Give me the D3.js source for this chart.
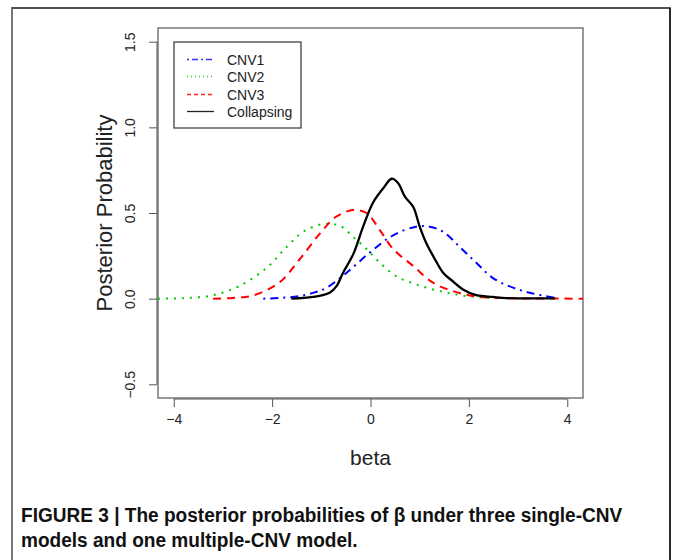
<!DOCTYPE html>
<html>
<meta charset="utf-8">
<style>
  body { margin: 0; background: #fff; }
  svg { display: block; }
  text { font-family: "Liberation Sans", Arial, sans-serif; fill: #222; }
  .caption { font-family: "Liberation Sans", Arial, sans-serif; font-weight: bold; fill: #111; }
</style>
<body>
  <svg width="673" height="560"></svg>
</body>
<script src="https://cdn.jsdelivr.net/npm/d3@7"></script>
<script>

  // values
  var xTicks = [-4, -2, 0, 2, 4];
  var yTicks = [-0.5, 0.0, 0.5, 1.0, 1.5];
  var legendNames = ["CNV1", "CNV2", "CNV3", "Collapsing"];

  var cnv1Beta = [-2.18, -1.8, -1.44, -1.15, -0.89, -0.49, -0.01, 0.46, 0.93, 1.2, 1.48, 1.82, 2.15, 2.49, 2.9, 3.3, 3.75];
  var cnv1Prob = [0, 0.005, 0.015, 0.035, 0.064, 0.15, 0.27, 0.37, 0.42, 0.42, 0.39, 0.30, 0.21, 0.12, 0.064, 0.03, 0.005];

  var cnv2Beta = [-4.32, -3.8, -3.2, -2.66, -2.11, -1.71, -1.37, -0.96, -0.62, -0.35, -0.08, 0.19, 0.53, 0.93, 1.41, 1.95, 2.6];
  var cnv2Prob = [0, 0.003, 0.02, 0.075, 0.18, 0.30, 0.39, 0.436, 0.425, 0.36, 0.29, 0.21, 0.13, 0.083, 0.044, 0.015, 0.002];

  var cnv3Beta = [-3.2, -2.8, -2.39, -1.85, -1.44, -1.03, -0.69, -0.35, -0.08, 0.19, 0.46, 0.87, 1.27, 1.68, 2.09, 2.6, 3.3, 4.32];
  var cnv3Prob = [0, 0.004, 0.018, 0.095, 0.23, 0.38, 0.48, 0.517, 0.50, 0.40, 0.29, 0.19, 0.093, 0.044, 0.015, 0.004, 0.001, 0];

  var collBeta = [-1.61, -1.17, -0.83, -0.69, -0.56, -0.35, -0.15, 0.05, 0.26, 0.43, 0.56, 0.70, 0.87, 1.0, 1.14, 1.31, 1.48, 1.68, 1.88, 2.15, 2.49, 2.76, 3.2, 3.75];
  var collProb = [0, 0.01, 0.035, 0.073, 0.15, 0.26, 0.42, 0.56, 0.645, 0.70, 0.675, 0.595, 0.535, 0.42, 0.32, 0.23, 0.15, 0.10, 0.054, 0.02, 0.01, 0.003, 0.002, 0.002];

  var svg = d3.select("svg");

  var plot = {left: 158, right: 583, top: 28, bottom: 398};

  var xScale = d3.scaleLinear().domain([-4.32, 4.32]).range([plot.left, plot.right]);
  var yScale = d3.scaleLinear().domain([-0.58, 1.58]).range([plot.bottom, plot.top]);

  // outer figure frame (open at the bottom)
  svg.append("path")
    .attr("d", "M12,562 L12,8 L670,8 L670,562")
    .attr("fill", "none").attr("stroke", "#777").attr("stroke-width", 2);
  svg.append("line").attr("x1", 12).attr("x2", 670).attr("y1", 8).attr("y2", 8)
    .attr("stroke", "#444").attr("stroke-width", 1.5);
  svg.append("line").attr("x1", 670).attr("x2", 670).attr("y1", 8).attr("y2", 562)
    .attr("stroke", "#111").attr("stroke-width", 1.5);

  // plot box
  svg.append("rect")
    .attr("x", plot.left).attr("y", plot.top)
    .attr("width", plot.right - plot.left).attr("height", plot.bottom - plot.top)
    .attr("fill", "none").attr("stroke", "#555").attr("stroke-width", 1.2);

  //AXES
  var xAxis = d3.axisBottom(xScale).tickValues(xTicks).tickSize(8).tickPadding(7)
    .tickFormat(function(d){ return d < 0 ? "\u2212" + Math.abs(d) : d; });
  var gx = svg.append("g").attr("transform", "translate(0," + (plot.bottom + 1) + ")").call(xAxis);
  gx.select(".domain").attr("d", "M" + xScale(-4) + ",0H" + xScale(4)).attr("stroke", "#555");
  gx.selectAll(".tick line").attr("stroke", "#555");
  gx.selectAll(".tick text").style("font-size", "14px").attr("fill", "#222");

  var yAxis = d3.axisLeft(yScale).tickValues(yTicks).tickSize(8).tickPadding(0)
    .tickFormat(function(d){ var s = d3.format(".1f")(Math.abs(d)); return d < 0 ? "\u2212" + s : s; });
  var gy = svg.append("g").attr("transform", "translate(" + (plot.left - 1) + ",0)").call(yAxis);
  gy.select(".domain").attr("d", "M0," + yScale(-0.5) + "V" + yScale(1.5)).attr("stroke", "#555");
  gy.selectAll(".tick line").attr("stroke", "#555");
  gy.selectAll(".tick text")
    .style("font-size", "14px").attr("fill", "#222")
    .attr("text-anchor", "middle").attr("dy", 0).attr("x", 0)
    .attr("transform", "translate(-22,0) rotate(-90)");

  // axis titles
  svg.append("text")
    .attr("x", (plot.left + plot.right) / 2).attr("y", 465)
    .attr("text-anchor", "middle").style("font-size", "21px").text("beta");
  svg.append("text")
    .attr("transform", "translate(112," + ((plot.top + plot.bottom) / 2) + ") rotate(-90)")
    .attr("text-anchor", "middle").style("font-size", "22px").text("Posterior Probability");

  //CURVES
  var series = [
    {beta: cnv2Beta, prob: cnv2Prob, color: "#00cd00", dash: "2,6", width: 2},
    {beta: cnv3Beta, prob: cnv3Prob, color: "#ff0000", dash: "8,6", width: 2},
    {beta: cnv1Beta, prob: cnv1Prob, color: "#0000ff", dash: "2,5,8,5", width: 2},
    {beta: collBeta, prob: collProb, color: "#000000", dash: null, width: 2.3}
  ];

  var line = d3.line()
    .x(function(d){ return xScale(d[0]); })
    .y(function(d){ return yScale(d[1]); })
    .curve(d3.curveCatmullRom.alpha(0.5));

  svg.selectAll("path.curve").data(series).enter()
    .append("path").attr("class", "curve")
    .attr("d", function(s){ return line(d3.zip(s.beta, s.prob)); })
    .attr("fill", "none")
    .attr("stroke", function(s){ return s.color; })
    .attr("stroke-width", function(s){ return s.width; })
    .attr("stroke-dasharray", function(s){ return s.dash; });

  //LEGEND
  var legendStyles = [
    {color: "#3333ff", dash: "2,3,6,3"},
    {color: "#22dd22", dash: "1,3"},
    {color: "#ff2222", dash: "4,3"},
    {color: "#222222", dash: null}
  ];
  var lg = svg.append("g");
  lg.append("rect").attr("x", 174).attr("y", 42).attr("width", 127).attr("height", 86)
    .attr("fill", "#fff").attr("stroke", "#333").attr("stroke-width", 1.2);
  var rows = lg.selectAll("g.row").data(legendNames).enter().append("g")
    .attr("transform", function(d, i){ return "translate(0," + Math.round(59 + i * 17.3) + ")"; });
  rows.append("line").attr("x1", 187).attr("x2", 214).attr("y1", 0.5).attr("y2", 0.5)
    .attr("stroke", function(d, i){ return legendStyles[i].color; })
    .attr("stroke-width", 1.3)
    .attr("stroke-dasharray", function(d, i){ return legendStyles[i].dash; });
  rows.append("text").attr("x", 227).attr("y", 5.5).style("font-size", "14px").text(function(d){ return d; });

  //CAPTION (condensed bold, like the journal's narrow face)
  var cap = svg.append("g").attr("transform", "translate(21,0) scale(0.93,1)");
  cap.append("text").attr("class", "caption").attr("x", 0).attr("y", 522).style("font-size", "20.5px")
    .text("FIGURE 3 | The posterior probabilities of \u03b2 under three single-CNV");
  cap.append("text").attr("class", "caption").attr("x", 0).attr("y", 547).style("font-size", "20.5px")
    .text("models and one multiple-CNV model.");

</script>
</html>
